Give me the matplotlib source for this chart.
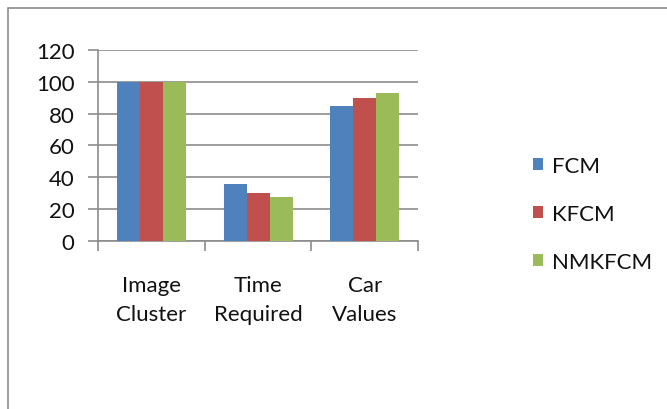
import matplotlib
matplotlib.use("Agg")
import matplotlib.pyplot as plt
from matplotlib.patches import Rectangle
import numpy as np

categories = ["Image\nCluster", "Time\nRequired", "Car\nValues"]
series_names = ["FCM", "KFCM", "NMKFCM"]
fcm = [100, 35.5, 84.8]
kfcm = [100, 30.3, 89.6]
nmkfcm = [100, 27.6, 93.2]
colors = ["#4F81BD", "#C0504D", "#9BBB59"]
yticks = [0, 20, 40, 60, 80, 100, 120]

plt.rcParams['font.family'] = ['Lato', 'DejaVu Sans']

fig = plt.figure(figsize=(6.67, 4.10), dpi=100)
ax = fig.add_axes([98.3/667, 1-241.7/410, (418-98.3)/667, (241.7-51)/410])

x = np.arange(len(categories))
w = 0.216
for i, (vals, name, c) in enumerate(zip([fcm, kfcm, nmkfcm], series_names, colors)):
    ax.bar(x + (i-1)*w, vals, width=w, color=c, label=name, zorder=3)

ax.set_xlim(-0.5, 2.5)
ax.set_ylim(0, 120)
ax.set_yticks(yticks)
ax.set_yticklabels([str(t) for t in yticks], fontsize=16, color='#111')
ax.yaxis.grid(True, color='#8c8c8c', linewidth=1.2, zorder=0)
ax.tick_params(axis='y', length=7, width=1.2, color='#8c8c8c', pad=10)

ax.set_xticks(x)
ax.set_xticklabels(categories, fontsize=16, color='#111', linespacing=1.55)
ax.tick_params(axis='x', which='major', length=0, pad=25)
ax.set_xticks([-0.5, 0.5, 1.5, 2.5], minor=True)
ax.tick_params(axis='x', which='minor', length=7, width=1.2, color='#8c8c8c')

for s in ['top', 'right']:
    ax.spines[s].set_visible(False)
for s in ['left', 'bottom']:
    ax.spines[s].set_color('#8c8c8c')
    ax.spines[s].set_linewidth(1.2)

handles, labels = ax.get_legend_handles_labels()
fig.legend(handles, labels, loc='upper left', bbox_to_anchor=(513/667, 1-137/410),
           frameon=False, fontsize=16, handlelength=0.45, handleheight=0.45,
           handletextpad=0.4, labelspacing=1.25, labelcolor='#111')

fig.patches.append(Rectangle((8/667, -0.1), 1.0, 1-9/410+0.1, transform=fig.transFigure,
                             fill=False, edgecolor='#8c8c8c', linewidth=1.2, clip_on=False))

fig.savefig("out.png", dpi=100)
